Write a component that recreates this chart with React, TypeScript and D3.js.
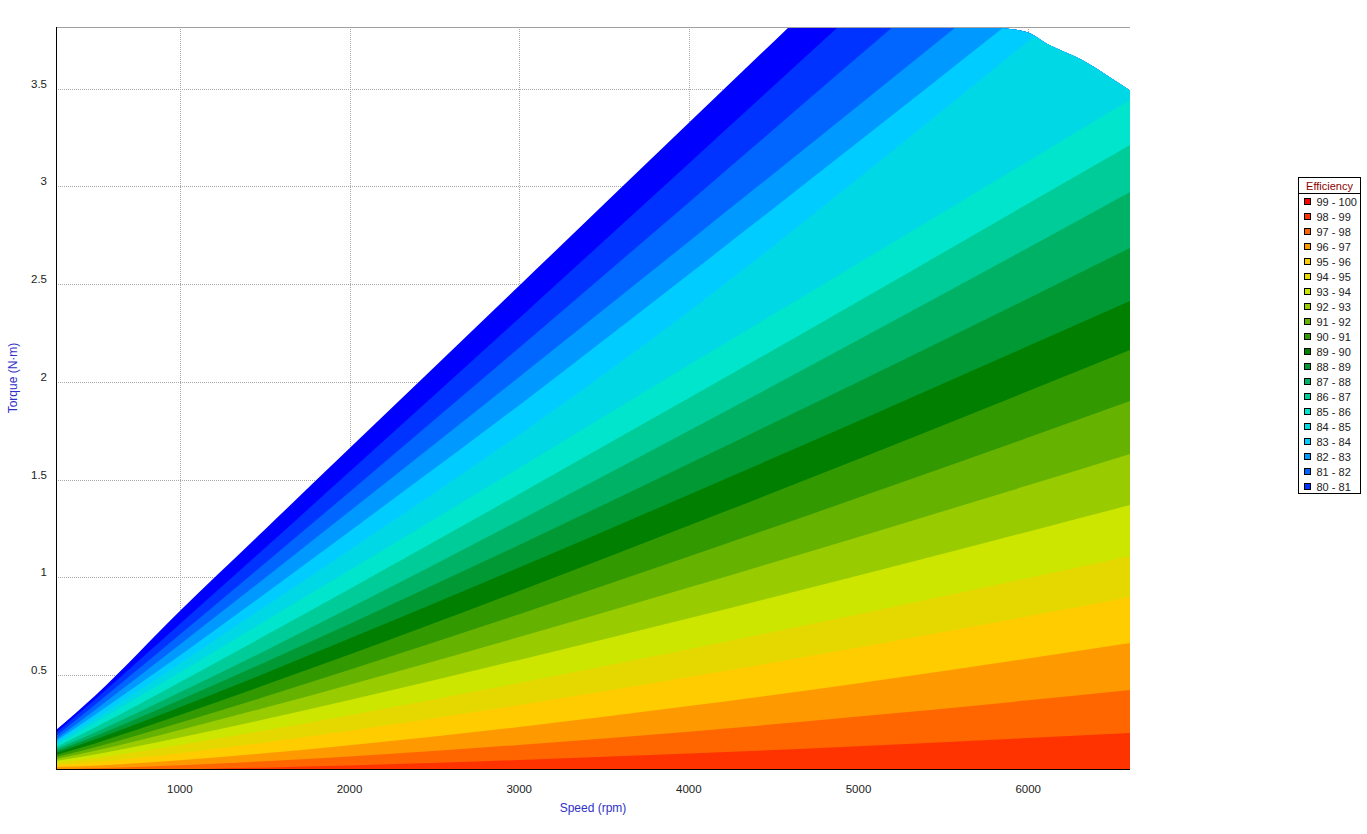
import React from "react";
import * as d3 from "d3";

// Speed sample points (rpm) at which each iso-efficiency contour is read (torque, N·m)
const speeds = [270, 500, 1000, 1500, 2000, 3000, 4000, 5000, 6000, 6600];

const c79 = [0.219, 0.395, 0.828, 1.244, 1.66, 2.492, 3.325, 4.156, 4.989, 5.491];
const c80 = [0.204, 0.376, 0.761, 1.149, 1.54, 2.326, 3.117, 3.911, 4.707, 5.188];
const c81 = [0.189, 0.349, 0.708, 1.071, 1.437, 2.175, 2.918, 3.665, 4.414, 4.875];
const c82 = [0.173, 0.322, 0.657, 0.996, 1.338, 2.025, 2.718, 3.414, 4.112, 4.531];
const c83 = [0.163, 0.298, 0.6, 0.915, 1.235, 1.881, 2.55, 3.228, 3.913, 4.327];
const c84 = [0.153, 0.278, 0.56, 0.85, 1.14, 1.73, 2.36, 3.042, 3.744, 4.173];
const c85 = [0.143, 0.258, 0.515, 0.776, 1.036, 1.56, 2.086, 2.607, 3.129, 3.442];
const c86 = [0.133, 0.232, 0.464, 0.701, 0.941, 1.426, 1.917, 2.412, 2.912, 3.212];
const c87 = [0.122, 0.207, 0.412, 0.624, 0.843, 1.291, 1.75, 2.215, 2.686, 2.971];
const c88 = [0.112, 0.188, 0.373, 0.565, 0.762, 1.166, 1.581, 2.001, 2.427, 2.685];
const c89 = [0.102, 0.171, 0.336, 0.509, 0.687, 1.05, 1.423, 1.8, 2.183, 2.414];
const c90 = [0.092, 0.151, 0.296, 0.449, 0.605, 0.93, 1.265, 1.606, 1.953, 2.163];
const c91 = [0.081, 0.131, 0.256, 0.389, 0.527, 0.812, 1.107, 1.408, 1.715, 1.902];
const c92 = [0.071, 0.113, 0.22, 0.333, 0.451, 0.695, 0.948, 1.207, 1.471, 1.631];
const c93 = [0.061, 0.094, 0.181, 0.274, 0.373, 0.578, 0.791, 1.01, 1.234, 1.37];
const c94 = [0.051, 0.076, 0.143, 0.217, 0.295, 0.46, 0.633, 0.812, 0.997, 1.11];
const c95 = [0.04, 0.055, 0.101, 0.156, 0.216, 0.347, 0.49, 0.642, 0.801, 0.9];
const c96 = [0.03, 0.037, 0.065, 0.1, 0.141, 0.235, 0.342, 0.459, 0.585, 0.664];
const c97 = [0.02, 0.024, 0.039, 0.06, 0.084, 0.143, 0.211, 0.288, 0.371, 0.424];
const c98 = [0.01, 0.012, 0.018, 0.027, 0.038, 0.066, 0.099, 0.136, 0.178, 0.204];

const contours = [c79, c80, c81, c82, c83, c84, c85, c86, c87, c88, c89, c90, c91, c92, c93, c94, c95, c96, c97, c98];
// fill colour of the band just below each contour (L .. L+1)
const bandColors = [
  "#0000ff", "#0033ff", "#0066ff", "#0099ff", "#00ccff", "#00d8e6", "#00e5cc", "#00cc99",
  "#00b266", "#009933", "#007f00", "#339900", "#66b200", "#99cc00", "#cce600", "#e5d800",
  "#ffcc00", "#ff9900", "#ff6600", "#ff3300",
];

// Maximum torque envelope
const envSpeed = [270, 4500, 5400, 5800, 5990, 6130, 6320, 6460, 6600];
const envTorque = [4.6, 4.2, 3.9, 3.815, 3.79, 3.72, 3.645, 3.57, 3.49];

const legendLabels = [
  "99 - 100", "98 - 99", "97 - 98", "96 - 97", "95 - 96", "94 - 95", "93 - 94", "92 - 93", "91 - 92", "90 - 91",
  "89 - 90", "88 - 89", "87 - 88", "86 - 87", "85 - 86", "84 - 85", "83 - 84", "82 - 83", "81 - 82", "80 - 81",
];
const legendColors = [
  "#ff0000", "#ff3300", "#ff6600", "#ff9900", "#ffcc00", "#e5d800", "#cce600", "#99cc00", "#66b200", "#339900",
  "#007f00", "#009933", "#00b266", "#00cc99", "#00e5cc", "#00d8e6", "#00ccff", "#0099ff", "#0066ff", "#0033ff",
];

const xTicks = [1000, 2000, 3000, 4000, 5000, 6000];
const yTicks = [0.5, 1, 1.5, 2, 2.5, 3, 3.5];

const FONT = "'Liberation Sans', Arial, sans-serif";

export default function App() {
  const left = 56, right = 1130, top = 27, bottom = 769;
  const x = d3.scaleLinear().domain([270, 6600]).range([left, right]);
  const y = d3.scaleLinear().domain([0.02, 3.815]).range([bottom, top]);

  const bandArea = (vals: number[]) =>
    d3
      .area<number>()
      .x((_, j) => x(speeds[j]))
      .y0(bottom)
      .y1((v) => y(v))
      .curve(d3.curveMonotoneX)(vals) || "";

  const envPath =
    d3
      .area<number>()
      .x((_, j) => x(envSpeed[j]))
      .y0(bottom)
      .y1((v) => y(v))
      .curve(d3.curveMonotoneX)(envTorque) || "";

  const legX = 1298.5, legY = 177.5, legW = 62, legH = 316;

  return (
    <svg
      width={1367}
      height={834}
      style={{ position: "absolute", left: 0, top: 0, display: "block", background: "#fff" }}
    >
      <defs>
        <clipPath id="plotClip">
          <rect x={left} y={top} width={right - left} height={bottom - top} />
        </clipPath>
        <clipPath id="envClip">
          <path d={envPath} />
        </clipPath>
      </defs>

      {/* grid */}
      <g stroke="#a8a8a8" strokeWidth={1} strokeDasharray="1,1">
        {xTicks.map((t) => (
          <line key={"gx" + t} x1={Math.round(x(t)) + 0.5} x2={Math.round(x(t)) + 0.5} y1={top} y2={bottom} />
        ))}
        {yTicks.map((t) => (
          <line key={"gy" + t} x1={left} x2={right} y1={Math.round(y(t)) + 0.5} y2={Math.round(y(t)) + 0.5} />
        ))}
      </g>

      {/* efficiency bands */}
      <g clipPath="url(#plotClip)">
        <g clipPath="url(#envClip)">
          {contours.map((c, i) => (
            <path key={"b" + i} d={bandArea(c)} fill={bandColors[i]} stroke="none" />
          ))}
        </g>
      </g>

      {/* frame */}
      <line x1={left} x2={right} y1={top + 0.5} y2={top + 0.5} stroke="#a0a0a0" />
      <line x1={left + 0.5} x2={left + 0.5} y1={top} y2={bottom + 1} stroke="#000" />
      <line x1={left} x2={right} y1={bottom + 0.5} y2={bottom + 0.5} stroke="#000" />

      {/* tick labels */}
      <g fontFamily={FONT} fontSize={11.5} fill="#222">
        {xTicks.map((t) => (
          <text key={"tx" + t} x={x(t)} y={793} textAnchor="middle">
            {t}
          </text>
        ))}
        {yTicks.map((t) => (
          <text key={"ty" + t} x={47} y={y(t) - 1} textAnchor="end">
            {String(t)}
          </text>
        ))}
      </g>

      {/* axis titles */}
      <text x={(left + right) / 2} y={812} textAnchor="middle" fontFamily={FONT} fontSize={12} fill="#3030c8">
        Speed (rpm)
      </text>
      <text
        transform="translate(17,378) rotate(-90)"
        textAnchor="middle"
        fontFamily={FONT}
        fontSize={12}
        fill="#3030c8"
      >
        Torque (N·m)
      </text>

      {/* legend */}
      <g fontFamily={FONT} fontSize={11}>
        <rect x={legX} y={legY} width={legW} height={legH} fill="#fff" stroke="#000" />
        <line x1={legX} x2={legX + legW} y1={193.5} y2={193.5} stroke="#000" />
        <text x={legX + legW / 2} y={190} textAnchor="middle" fill="#8b0000">
          Efficiency
        </text>
        {legendLabels.map((lab, i) => (
          <g key={"l" + i}>
            <rect x={1304.5} y={198.5 + 15 * i} width={6} height={6} fill={legendColors[i]} stroke="#000" />
            <text x={1316.5} y={205.5 + 15 * i} fill="#222">
              {lab}
            </text>
          </g>
        ))}
      </g>
    </svg>
  );
}
